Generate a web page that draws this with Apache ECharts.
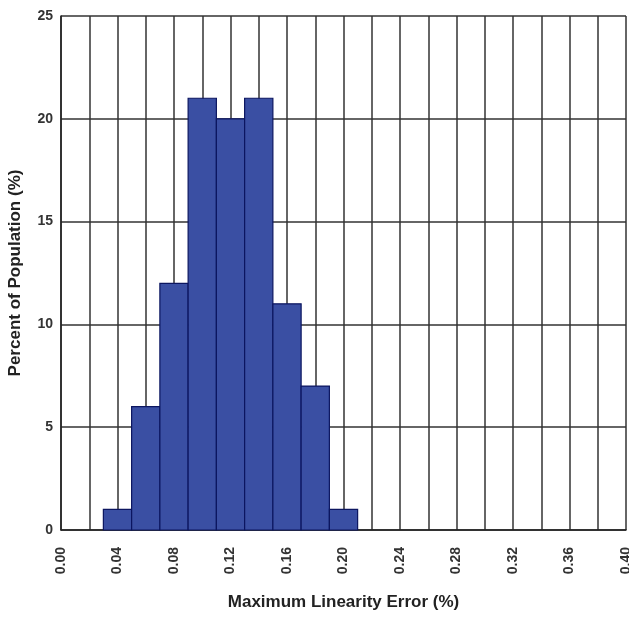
<!DOCTYPE html>
<html><head><meta charset="utf-8">
<script src="https://cdn.jsdelivr.net/npm/echarts@6/dist/echarts.min.js"></script>
<style>html,body{margin:0;padding:0;background:#fff}#c{width:629px;height:620px}</style>
</head><body><div id="c"></div>
<script>
const binCenters = [0.04, 0.06, 0.08, 0.10, 0.12, 0.14, 0.16, 0.18, 0.20];
const percents = [1, 6, 12, 21, 20, 21, 11, 7, 1];
const binWidth = 0.02;
const xTickLabels = ['0.00','0.04','0.08','0.12','0.16','0.20','0.24','0.28','0.32','0.36','0.40'];

const chart = echarts.init(document.getElementById('c'));
const data = binCenters.map((c, i) => [c, percents[i]]);
chart.setOption({
  animation: false,
  grid: {left: 61, right: 3, top: 16, bottom: 90, outerBoundsMode: 'none', containLabel: false},
  xAxis: {
    type: 'value', min: 0, max: 0.40, interval: 0.02,
    name: 'Maximum Linearity Error (%)', nameLocation: 'middle', nameGap: 64,
    nameTextStyle: {fontFamily: 'Liberation Sans', fontWeight: 'bold', fontSize: 17, color: '#222'},
    axisLine: {show: true, lineStyle: {color: '#222', width: 1.5}},
    axisTick: {show: false},
    splitLine: {show: true, lineStyle: {color: '#333', width: 1.5}},
    axisLabel: {
      rotate: 90, margin: 17, fontFamily: 'Liberation Sans', fontWeight: 'bold', fontSize: 14, color: '#333',
      formatter: v => { const k = Math.round(v * 100); return k % 4 === 0 ? xTickLabels[k / 4] : ''; }
    }
  },
  yAxis: {
    type: 'value', min: 0, max: 25, interval: 5,
    name: 'Percent of Population (%)', nameLocation: 'middle', nameGap: 37,
    nameTextStyle: {fontFamily: 'Liberation Sans', fontWeight: 'bold', fontSize: 17, color: '#222'},
    axisLine: {show: true, lineStyle: {color: '#222', width: 1.5}},
    axisTick: {show: false},
    splitLine: {show: true, lineStyle: {color: '#333', width: 1.5}},
    axisLabel: {margin: 8, fontFamily: 'Liberation Sans', fontWeight: 'bold', fontSize: 14, color: '#333'}
  },
  series: [{
    type: 'custom',
    data: data,
    renderItem: (params, api) => {
      const c = api.value(0), v = api.value(1);
      const p0 = api.coord([c - binWidth / 2, v]);
      const p1 = api.coord([c + binWidth / 2, 0]);
      return {type: 'rect', shape: {x: p0[0], y: p0[1], width: p1[0] - p0[0], height: p1[1] - p0[1]},
        style: {fill: '#3a4fa3', stroke: '#0c1660', lineWidth: 1.2}};
    }
  }]
});
</script></body></html>
